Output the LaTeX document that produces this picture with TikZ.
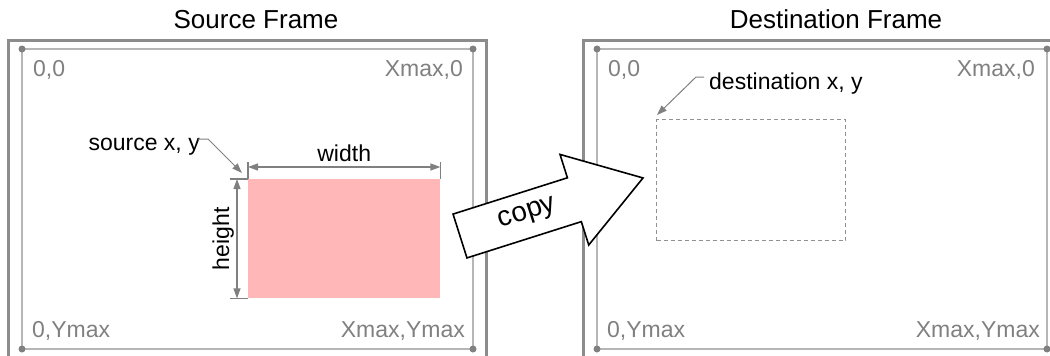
\documentclass[tikz,border=0pt]{standalone}
\usepackage{fontspec}
\setmainfont{Liberation Sans}
\usepackage{tikz}
\usetikzlibrary{arrows.meta,calc}
\usepackage{xcolor}
\definecolor{framedark}{RGB}{140,140,140}
\definecolor{framelight}{RGB}{182,182,182}
\definecolor{labelgray}{RGB}{128,128,128}
\definecolor{dashgray}{RGB}{145,145,145}
\definecolor{srcfill}{RGB}{255,183,183}

\begin{document}
\begin{tikzpicture}[x=1pt, y=-1pt, >={Triangle[length=10pt,width=7pt]},
    title/.style={font=\fontsize{26}{30}\selectfont, inner sep=0pt},
    corner/.style={font=\fontsize{23}{27}\selectfont, text=labelgray, inner sep=0pt},
    lbl/.style={font=\fontsize{23}{27}\selectfont, inner sep=0pt},
    dim/.style={labelgray, line width=1.2pt},
    leader/.style={labelgray, line width=1pt},
    outerframe/.style={framedark, line width=3pt},
    innerframe/.style={framelight, line width=1.5pt}]
    \useasboundingbox (0,0) rectangle (1050,356);
    \clip (0,0) rectangle (1050,356);

    % Ueberschriften
    \node[title, anchor=base] (srctitle) at (256,28) {Source Frame};
    \node[title, anchor=base] (dsttitle) at (836,28) {Destination Frame};

    % Rahmen links und rechts
    \draw[outerframe] (8,360) -- (8,40) -- (486,40) -- (486,360);
    \draw[innerframe] (22,49) rectangle (473,349);
    \draw[outerframe] (583,360) -- (583,40) -- (1060,40);
    \draw[innerframe] (597,49) rectangle (1047,349);
    \foreach \x in {22,473,597,1047}
        \foreach \y in {49,349}
            \fill[labelgray] (\x,\y) circle (3.5pt);

    % Eckpunkte
    \node[corner, anchor=base west] (s00) at (33,76) {0,0};
    \node[corner, anchor=base east] (sx0) at (463,76) {Xmax,0};
    \node[corner, anchor=base west] (s0y) at (32,337) {0,Ymax};
    \node[corner, anchor=base east] (sxy) at (465,337) {Xmax,Ymax};
    \node[corner, anchor=base west] (d00) at (608,76) {0,0};
    \node[corner, anchor=base east] (dx0) at (1035,76) {Xmax,0};
    \node[corner, anchor=base west] (d0y) at (607,337) {0,Ymax};
    \node[corner, anchor=base east] (dxy) at (1040,337) {Xmax,Ymax};

    % Quellbereich mit Bemassung
    \node[fill=srcfill, inner sep=0pt, minimum width=192pt, minimum height=119pt,
        anchor=north west] (srcrect) at (248,179) {};
    \draw[dim] (srcrect.north west) -- ++(0,-17);
    \draw[dim] (srcrect.north east) -- ++(0,-17);
    \draw[dim, <->] ([yshift=12pt]srcrect.north west) -- ([yshift=12pt]srcrect.north east);
    \node[lbl, anchor=base] (wlbl) at ($(srcrect.north)+(0,-18)$) {width};
    \draw[dim] (srcrect.north west) -- ++(-18,0);
    \draw[dim] (srcrect.south west) -- ++(-18,0);
    \draw[dim, <->] ([xshift=-11pt]srcrect.north west) -- ([xshift=-11pt]srcrect.south west);
    \node[lbl, anchor=base, rotate=90] (hlbl) at ($(srcrect.west)+(-19,0)$) {height};
    \node[lbl, anchor=base east] (srclbl) at (200,150) {source x, y};
    \draw[leader, ->] ($(srclbl.base east)+(-2,-11)$) -- ++(10,0)
        -- ([shift={(-6,-6)}]srcrect.north west);

    % Zielbereich
    \node[draw=dashgray, line width=1.3pt, dash pattern=on 4pt off 3pt, inner sep=0pt,
        minimum width=189pt, minimum height=121pt, anchor=north west] (dstrect) at (656,119) {};
    \node[lbl, anchor=base west] (dstlbl) at (709,89) {destination x, y};
    \draw[leader, ->] ($(dstlbl.base west)+(-5,-12)$) -- ++(-8,0)
        -- ([shift={(1,-4)}]dstrect.north west);

    % Kopierpfeil
    \begin{scope}[shift={(460,236)}, rotate=17.6]
        \draw[line width=1.6pt, fill=white, line join=miter]
            (0,-23) -- (120,-23) -- (120,-47.5) -- (192,0) -- (120,47.5)
            -- (120,23) -- (0,23) -- cycle;
        \node[font=\fontsize{28}{32}\selectfont, rotate=17.6] (copytxt) at (71,0) {copy};
    \end{scope}
\end{tikzpicture}
\end{document}
